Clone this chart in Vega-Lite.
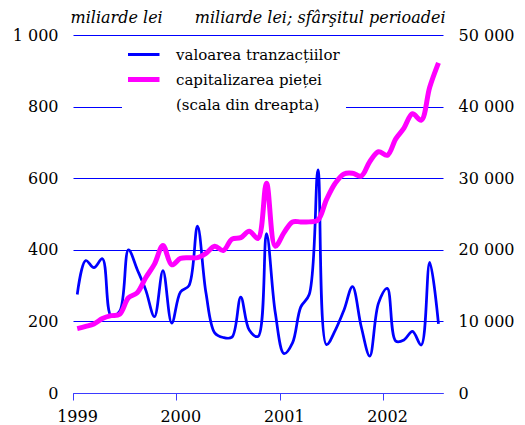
{
  "$schema": "https://vega.github.io/schema/vega-lite/v6.json",
  "width": 370,
  "height": 358,
  "autosize": "none",
  "padding": {"left": 73, "top": 35, "right": 82, "bottom": 32},
  "config": {
    "view": {"stroke": null},
    "font": "DejaVu Serif",
    "axis": {"labelFont": "DejaVu Serif", "labelFontSize": 16, "labelColor": "#000000", "titleColor": "#000000"}
  },
  "datasets": {
    "tranz": [
      {"date": "1999-01-16", "series": "valoarea tranzacțiilor", "value": 275},
      {"date": "1999-02-15", "series": "valoarea tranzacțiilor", "value": 370},
      {"date": "1999-03-16", "series": "valoarea tranzacțiilor", "value": 350},
      {"date": "1999-04-15", "series": "valoarea tranzacțiilor", "value": 375},
      {"date": "1999-05-16", "series": "valoarea tranzacțiilor", "value": 215},
      {"date": "1999-06-15", "series": "valoarea tranzacțiilor", "value": 228},
      {"date": "1999-07-16", "series": "valoarea tranzacțiilor", "value": 400},
      {"date": "1999-08-16", "series": "valoarea tranzacțiilor", "value": 345},
      {"date": "1999-09-15", "series": "valoarea tranzacțiilor", "value": 288},
      {"date": "1999-10-16", "series": "valoarea tranzacțiilor", "value": 213},
      {"date": "1999-11-15", "series": "valoarea tranzacțiilor", "value": 342},
      {"date": "1999-12-16", "series": "valoarea tranzacțiilor", "value": 195},
      {"date": "2000-01-16", "series": "valoarea tranzacțiilor", "value": 282},
      {"date": "2000-02-15", "series": "valoarea tranzacțiilor", "value": 300},
      {"date": "2000-03-16", "series": "valoarea tranzacțiilor", "value": 466},
      {"date": "2000-04-15", "series": "valoarea tranzacțiilor", "value": 280},
      {"date": "2000-05-16", "series": "valoarea tranzacțiilor", "value": 168},
      {"date": "2000-06-15", "series": "valoarea tranzacțiilor", "value": 155},
      {"date": "2000-07-16", "series": "valoarea tranzacțiilor", "value": 156},
      {"date": "2000-08-16", "series": "valoarea tranzacțiilor", "value": 268},
      {"date": "2000-09-15", "series": "valoarea tranzacțiilor", "value": 176},
      {"date": "2000-10-16", "series": "valoarea tranzacțiilor", "value": 158},
      {"date": "2000-11-15", "series": "valoarea tranzacțiilor", "value": 445},
      {"date": "2000-12-16", "series": "valoarea tranzacțiilor", "value": 225},
      {"date": "2001-01-16", "series": "valoarea tranzacțiilor", "value": 110},
      {"date": "2001-02-15", "series": "valoarea tranzacțiilor", "value": 140},
      {"date": "2001-03-16", "series": "valoarea tranzacțiilor", "value": 240},
      {"date": "2001-04-15", "series": "valoarea tranzacțiilor", "value": 275},
      {"date": "2001-05-16", "series": "valoarea tranzacțiilor", "value": 623},
      {"date": "2001-06-15", "series": "valoarea tranzacțiilor", "value": 135},
      {"date": "2001-07-16", "series": "valoarea tranzacțiilor", "value": 175},
      {"date": "2001-08-16", "series": "valoarea tranzacțiilor", "value": 232},
      {"date": "2001-09-15", "series": "valoarea tranzacțiilor", "value": 297},
      {"date": "2001-10-16", "series": "valoarea tranzacțiilor", "value": 185},
      {"date": "2001-11-15", "series": "valoarea tranzacțiilor", "value": 103},
      {"date": "2001-12-16", "series": "valoarea tranzacțiilor", "value": 251},
      {"date": "2002-01-16", "series": "valoarea tranzacțiilor", "value": 292},
      {"date": "2002-02-15", "series": "valoarea tranzacțiilor", "value": 145},
      {"date": "2002-03-16", "series": "valoarea tranzacțiilor", "value": 148},
      {"date": "2002-04-15", "series": "valoarea tranzacțiilor", "value": 172},
      {"date": "2002-05-16", "series": "valoarea tranzacțiilor", "value": 134},
      {"date": "2002-06-15", "series": "valoarea tranzacțiilor", "value": 365},
      {"date": "2002-07-16", "series": "valoarea tranzacțiilor", "value": 193}
    ],
    "cap": [
      {"date": "1999-01-16", "series": "capitalizarea pieței", "value": 9000},
      {"date": "1999-02-15", "series": "capitalizarea pieței", "value": 9300},
      {"date": "1999-03-16", "series": "capitalizarea pieței", "value": 9650},
      {"date": "1999-04-15", "series": "capitalizarea pieței", "value": 10400},
      {"date": "1999-05-16", "series": "capitalizarea pieței", "value": 10800},
      {"date": "1999-06-15", "series": "capitalizarea pieței", "value": 11000},
      {"date": "1999-07-16", "series": "capitalizarea pieței", "value": 13300},
      {"date": "1999-08-16", "series": "capitalizarea pieței", "value": 14000},
      {"date": "1999-09-15", "series": "capitalizarea pieței", "value": 16100},
      {"date": "1999-10-16", "series": "capitalizarea pieței", "value": 18000},
      {"date": "1999-11-15", "series": "capitalizarea pieței", "value": 20600},
      {"date": "1999-12-16", "series": "capitalizarea pieței", "value": 17900},
      {"date": "2000-01-16", "series": "capitalizarea pieței", "value": 18800},
      {"date": "2000-02-15", "series": "capitalizarea pieței", "value": 18900},
      {"date": "2000-03-16", "series": "capitalizarea pieței", "value": 18900},
      {"date": "2000-04-15", "series": "capitalizarea pieței", "value": 19500},
      {"date": "2000-05-16", "series": "capitalizarea pieței", "value": 20500},
      {"date": "2000-06-15", "series": "capitalizarea pieței", "value": 19900},
      {"date": "2000-07-16", "series": "capitalizarea pieței", "value": 21500},
      {"date": "2000-08-16", "series": "capitalizarea pieței", "value": 21700},
      {"date": "2000-09-15", "series": "capitalizarea pieței", "value": 22600},
      {"date": "2000-10-16", "series": "capitalizarea pieței", "value": 21600},
      {"date": "2000-11-15", "series": "capitalizarea pieței", "value": 29300},
      {"date": "2000-12-16", "series": "capitalizarea pieței", "value": 20500},
      {"date": "2001-01-16", "series": "capitalizarea pieței", "value": 22400},
      {"date": "2001-02-15", "series": "capitalizarea pieței", "value": 23900},
      {"date": "2001-03-16", "series": "capitalizarea pieței", "value": 23900},
      {"date": "2001-04-15", "series": "capitalizarea pieței", "value": 23900},
      {"date": "2001-05-16", "series": "capitalizarea pieței", "value": 24150},
      {"date": "2001-06-15", "series": "capitalizarea pieței", "value": 27000},
      {"date": "2001-07-16", "series": "capitalizarea pieței", "value": 29300},
      {"date": "2001-08-16", "series": "capitalizarea pieței", "value": 30600},
      {"date": "2001-09-15", "series": "capitalizarea pieței", "value": 30700},
      {"date": "2001-10-16", "series": "capitalizarea pieței", "value": 30300},
      {"date": "2001-11-15", "series": "capitalizarea pieței", "value": 32300},
      {"date": "2001-12-16", "series": "capitalizarea pieței", "value": 33700},
      {"date": "2002-01-16", "series": "capitalizarea pieței", "value": 33200},
      {"date": "2002-02-15", "series": "capitalizarea pieței", "value": 35500},
      {"date": "2002-03-16", "series": "capitalizarea pieței", "value": 37000},
      {"date": "2002-04-15", "series": "capitalizarea pieței", "value": 39000},
      {"date": "2002-05-16", "series": "capitalizarea pieței", "value": 38100},
      {"date": "2002-06-15", "series": "capitalizarea pieței", "value": 42700},
      {"date": "2002-07-16", "series": "capitalizarea pieței", "value": 46100}
    ]
  },
  "encoding": {
    "x": {
      "field": "date",
      "type": "temporal",
      "scale": {
        "type": "utc",
        "domain": [{"year": 1999, "month": 1, "date": 1, "utc": true}, {"year": 2002, "month": 8, "date": 1, "utc": true}],
        "nice": false
      },
      "axis": {
        "title": null,
        "values": [
          {"year": 1999, "month": 1, "date": 1, "utc": true},
          {"year": 2000, "month": 1, "date": 1, "utc": true},
          {"year": 2001, "month": 1, "date": 1, "utc": true},
          {"year": 2002, "month": 1, "date": 1, "utc": true}
        ],
        "labelExpr": "utcFormat(datum.value, '%Y')",
        "grid": false,
        "domainColor": "#3b3bff",
        "domainWidth": 1,
        "tickColor": "#3b3bff",
        "tickSize": 7,
        "tickWidth": 1,
        "labelPadding": 8,
        "labelOffset": 4,
        "labelFlush": false,
        "labelOverlap": false
      }
    },
    "color": {
      "field": "series",
      "type": "nominal",
      "scale": {
        "domain": ["valoarea tranzacțiilor", "capitalizarea pieței", "(scala din dreapta)"],
        "range": ["#0000ff", "#ff00ff", "#ffffff"]
      },
      "legend": {
        "title": null,
        "orient": "none",
        "legendX": 49,
        "legendY": 1,
        "padding": 6,
        "fillColor": "#ffffff",
        "clipHeight": 25,
        "rowPadding": 0,
        "symbolType": "stroke",
        "symbolSize": 2304,
        "symbolStrokeWidth": 3,
        "labelOffset": 33,
        "labelFont": "DejaVu Serif",
        "labelFontSize": 15,
        "labelColor": "#000000",
        "labelLimit": 400,
        "encode": {
          "symbols": {
            "update": {
              "strokeWidth": {"signal": "datum.value === 'capitalizarea pieței' ? 5 : 3"}
            }
          }
        }
      }
    }
  },
  "layer": [
    {
      "data": {"name": "tranz"},
      "mark": {"type": "line", "interpolate": "catmull-rom", "strokeWidth": 2.75},
      "encoding": {
        "y": {
          "field": "value",
          "type": "quantitative",
          "scale": {"domain": [0, 1000], "nice": false},
          "axis": {
            "orient": "left",
            "values": [0, 200, 400, 600, 800, 1000],
            "labelExpr": "replace(format(datum.value, ','), ',', ' ')",
            "domain": false,
            "ticks": false,
            "labelPadding": 15,
            "grid": true,
            "gridColor": "#0000ff",
            "gridWidth": 1,
            "title": "miliarde lei",
            "titleAngle": 0,
            "titleAlign": "left",
            "titleBaseline": "alphabetic",
            "titleX": -3,
            "titleY": -13,
            "titleFont": "DejaVu Serif",
            "titleFontSize": 16,
            "titleFontStyle": "italic",
            "titleFontWeight": "normal"
          }
        }
      }
    },
    {
      "data": {"name": "cap"},
      "mark": {"type": "line", "interpolate": "catmull-rom", "strokeWidth": 5},
      "encoding": {
        "y": {
          "field": "value",
          "type": "quantitative",
          "scale": {"domain": [0, 50000], "nice": false},
          "axis": {
            "orient": "right",
            "values": [0, 10000, 20000, 30000, 40000, 50000],
            "labelExpr": "replace(format(datum.value, ','), ',', ' ')",
            "domain": false,
            "ticks": false,
            "labelPadding": 15,
            "grid": false,
            "title": "miliarde lei; sfârşitul perioadei",
            "titleAngle": 0,
            "titleAlign": "right",
            "titleBaseline": "alphabetic",
            "titleX": 2,
            "titleY": -13,
            "titleFont": "DejaVu Serif",
            "titleFontSize": 16,
            "titleFontStyle": "italic",
            "titleFontWeight": "normal"
          }
        }
      }
    }
  ],
  "resolve": {"scale": {"y": "independent"}, "axis": {"y": "independent"}}
}
